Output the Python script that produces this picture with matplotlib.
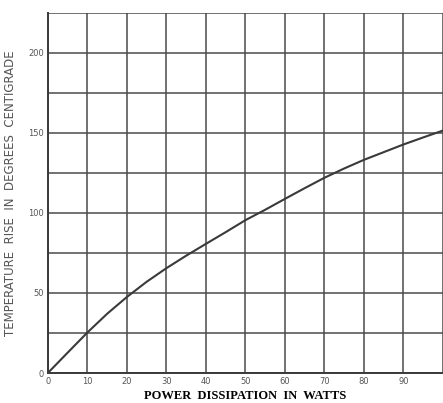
import matplotlib.pyplot as plt
import numpy as np

# values, every 5 W
watts = [0, 5, 10, 15, 20, 25, 30, 35, 40, 45, 50,
         55, 60, 65, 70, 75, 80, 85, 90, 95, 100]
temp_rise = [0, 12.7, 25.3, 37, 47.5, 57, 65.5, 73.3, 80.7, 88, 95.5,
             102, 108.8, 115.5, 122, 127.8, 133.2, 138, 142.8, 147.2, 151.5]

x_labels = ['0', '10', '20', '30', '40', '50', '60', '70', '80', '90', '']
y_ticks = [0, 50, 100, 150, 200]

ink = '#3a3a3a'

fig = plt.figure(figsize=(4.43, 4.03), dpi=100)
ax = fig.add_axes([0.108, 0.0744, 0.892, 0.8936])

ax.plot(watts, temp_rise, color=ink, linewidth=1.5, zorder=3)

ax.set_xlim(0, 100)
ax.set_ylim(0, 225)
ax.set_xticks(np.arange(0, 101, 10))
ax.set_yticks(np.arange(0, 226, 25))
ax.grid(True, color='#4a4a4a', linewidth=1.1)

# only some grid lines carry numbers
ax.set_xticklabels(x_labels)
ax.set_yticklabels([str(v) if v in y_ticks else '' for v in np.arange(0, 226, 25)])
for lbl in ax.get_xticklabels()[8:]:
    lbl.set_color('#dddddd')

ax.tick_params(length=0, labelsize=6, labelcolor='#555555', pad=3)
for s in ['top', 'right']:
    ax.spines[s].set_visible(False)
for s in ['left', 'bottom']:
    ax.spines[s].set_color(ink)
    ax.spines[s].set_linewidth(1.4)

ax.set_ylabel('TEMPERATURE  RISE  IN  DEGREES  CENTIGRADE', fontsize=8.5,
              color='#555555', labelpad=8)
ax.set_xlabel('POWER  DISSIPATION  IN  WATTS', fontsize=9, fontweight='bold',
              family='Liberation Serif', color='black', labelpad=3)

plt.savefig('out.png', dpi=100)
